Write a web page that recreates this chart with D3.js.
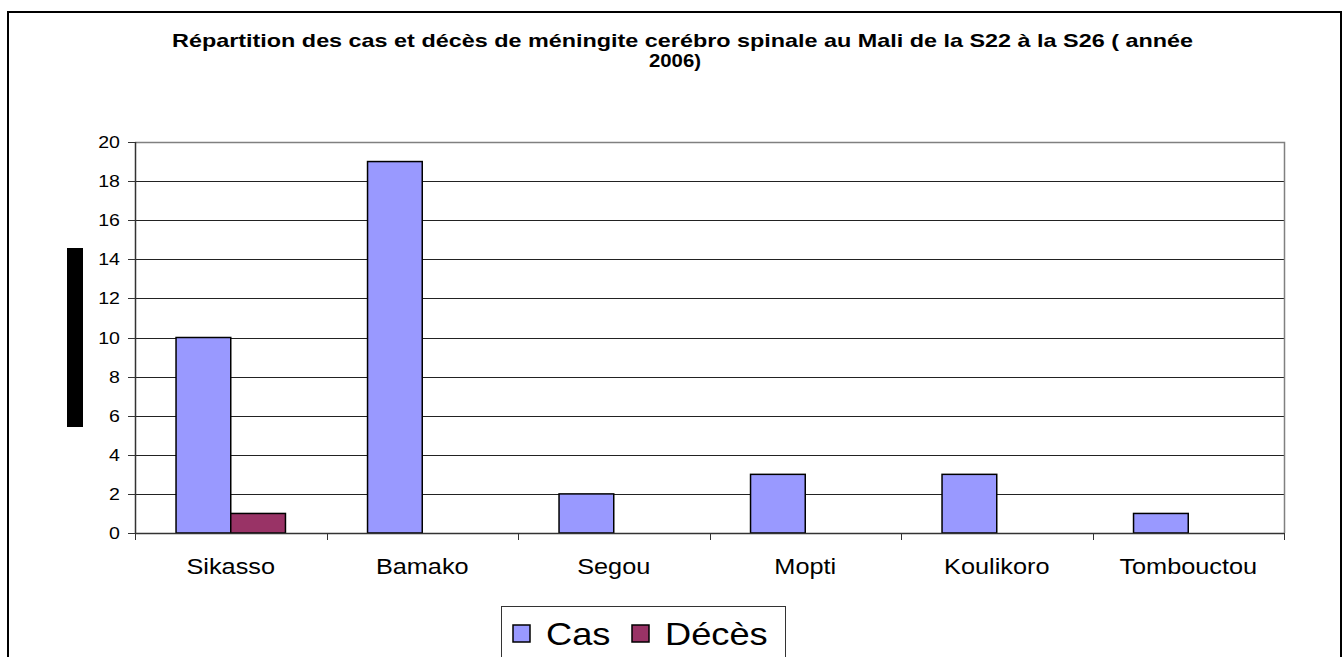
<!DOCTYPE html>
<html>
<head>
<meta charset="utf-8">
<script src="https://cdn.jsdelivr.net/npm/d3@7"></script>
<style>
  body { margin: 0; background: #fff; }
  text { font-family: Arial, "Liberation Sans", sans-serif; }
</style>
</head>
<body>
<div id="chart"></div>
<script>
// Data
const regions = ["Sikasso", "Bamako", "Segou", "Mopti", "Koulikoro", "Tombouctou"];
const series = ["Cas", "Décès"];
const casValues = [10, 19, 2, 3, 3, 1];
const decesValues = [1, 0, 0, 0, 0, 0];
const yTicks = [0, 2, 4, 6, 8, 10, 12, 14, 16, 18, 20];
const colors = ["#9999FF", "#993366"];
const titleLines = [
  "Répartition des cas et décès de méningite cerébro spinale au Mali de la S22 à la S26 ( année",
  "2006)"
];

const W = 1342, H = 657;
const plot = {left: 135, right: 1284, top: 142, bottom: 533};

const svg = d3.select("#chart").append("svg")
    .attr("width", W)
    .attr("height", H);

// outer frame (bottom edge is off-screen)
svg.append("rect")
    .attr("x", 8).attr("y", 12)
    .attr("width", 1333).attr("height", 700)
    .attr("fill", "none")
    .attr("stroke", "#000")
    .attr("stroke-width", 2);

// helper: text stretched horizontally like the original
function stretched(g, x, y, str, size, sx, anchor, weight) {
  return g.append("text")
      .attr("transform", `translate(${x},${y}) scale(${sx},1)`)
      .attr("text-anchor", anchor)
      .attr("font-size", size)
      .attr("font-weight", weight || "normal")
      .attr("fill", "#000")
      .text(str);
}

// title
svg.append("text")
    .attr("x", 172).attr("y", 47)
    .attr("font-size", 18.5)
    .attr("font-weight", "bold")
    .attr("textLength", 1021)
    .attr("lengthAdjust", "spacingAndGlyphs")
    .text(titleLines[0]);
stretched(svg, 675, 67, titleLines[1], 18.5, 1.1, "middle", "bold");

// scales
const y = d3.scaleLinear().domain([0, 20]).range([plot.bottom, plot.top]);
const x0 = d3.scaleBand().domain(regions).range([plot.left, plot.right]).padding(0);
const x1 = d3.scaleBand().domain(series).range([0, x0.bandwidth()])
    .paddingInner(0).paddingOuter(0.75);

// gridlines
svg.append("g")
  .selectAll("line")
  .data(yTicks.filter(d => d > 0 && d < 20))
  .join("line")
    .attr("x1", plot.left).attr("x2", plot.right)
    .attr("y1", d => Math.round(y(d)) + 0.5)
    .attr("y2", d => Math.round(y(d)) + 0.5)
    .attr("stroke", "#222")
    .attr("stroke-width", 1);

// plot area border (top & right)
svg.append("path")
    .attr("d", `M${plot.left},${plot.top + 0.5}H${plot.right + 0.5}V${plot.bottom}`)
    .attr("fill", "none")
    .attr("stroke", "#808080")
    .attr("stroke-width", 1.5);

// bars
const rows = regions.map((r, i) => ({region: r, values: [casValues[i], decesValues[i]]}));
const groups = svg.append("g")
  .selectAll("g")
  .data(rows)
  .join("g")
    .attr("transform", d => `translate(${x0(d.region)},0)`);

groups.selectAll("rect")
  .data(d => d.values.map((v, j) => ({key: series[j], value: v, color: colors[j]})).filter(d => d.value > 0))
  .join("rect")
    .attr("x", d => x1(d.key))
    .attr("y", d => y(d.value))
    .attr("width", x1.bandwidth())
    .attr("height", d => y(0) - y(d.value))
    .attr("fill", d => d.color)
    .attr("stroke", "#000")
    .attr("stroke-width", 1.5);

// y axis
const yAxis = svg.append("g");
yAxis.append("line")
    .attr("x1", plot.left + 0.5).attr("x2", plot.left + 0.5)
    .attr("y1", plot.top).attr("y2", plot.bottom)
    .attr("stroke", "#333").attr("stroke-width", 1.5);
yAxis.selectAll("line.tick")
  .data(yTicks)
  .join("line")
    .attr("class", "tick")
    .attr("x1", plot.left - 7).attr("x2", plot.left)
    .attr("y1", d => Math.round(y(d)) + 0.5)
    .attr("y2", d => Math.round(y(d)) + 0.5)
    .attr("stroke", "#333");
yTicks.forEach(t => stretched(yAxis, 120, y(t) + 6, String(t), 16.3, 1.2, "end"));

// x axis
const xAxis = svg.append("g");
xAxis.append("line")
    .attr("x1", plot.left).attr("x2", plot.right)
    .attr("y1", plot.bottom + 0.5).attr("y2", plot.bottom + 0.5)
    .attr("stroke", "#333").attr("stroke-width", 1.5);
const bounds = regions.map(r => x0(r)).concat([plot.right]);
xAxis.selectAll("line.tick")
  .data(bounds)
  .join("line")
    .attr("class", "tick")
    .attr("x1", d => Math.round(d) + 0.5).attr("x2", d => Math.round(d) + 0.5)
    .attr("y1", plot.bottom).attr("y2", plot.bottom + 7)
    .attr("stroke", "#333");
regions.forEach(r => stretched(xAxis, x0(r) + x0.bandwidth() / 2, 573.5, r, 22, 1.15, "middle"));

// blacked-out axis title block
svg.append("rect")
    .attr("x", 67).attr("y", 248)
    .attr("width", 16).attr("height", 179)
    .attr("fill", "#000");

// legend
const legend = svg.append("g");
legend.append("rect")
    .attr("x", 501.5).attr("y", 606.5)
    .attr("width", 284).attr("height", 80)
    .attr("fill", "#fff")
    .attr("stroke", "#333")
    .attr("stroke-width", 1);
const legendItems = [
  {label: series[0], color: colors[0], sq: 513, tx: 546},
  {label: series[1], color: colors[1], sq: 632, tx: 665}
];
legendItems.forEach(d => {
  legend.append("rect")
      .attr("x", d.sq).attr("y", 625)
      .attr("width", 17).attr("height", 17)
      .attr("fill", d.color)
      .attr("stroke", "#000")
      .attr("stroke-width", 1.5);
  stretched(legend, d.tx, 645, d.label, 31, 1.17, "start");
});
</script>
</body>
</html>
